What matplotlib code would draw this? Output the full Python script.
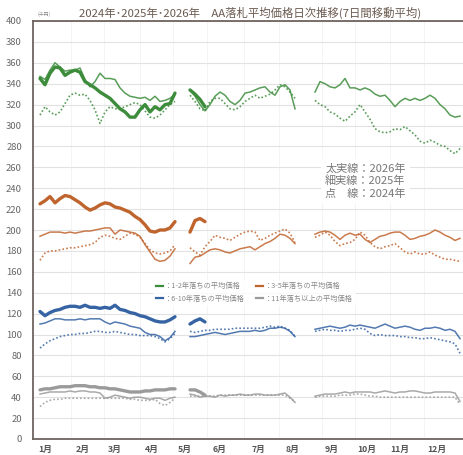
import numpy as np
import matplotlib
matplotlib.use("Agg")
import matplotlib.pyplot as plt
from matplotlib.lines import Line2D

plt.rcParams['font.family'] = ['Noto Sans CJK JP', 'DejaVu Sans']

nan = np.nan

months = ['1月', '2月', '3月', '4月', '5月', '6月', '7月', '8月', '9月', '10月', '11月', '12月']
month_pos = [1, 8.6, 15, 22.4, 29, 36, 43.6, 50.6, 58.4, 65.4, 72, 79.4]

# 7日間移動平均 (千円)  index = 集計日, nan = 休会期間
green_2026 = [345, 339, 350, 356, 355, 348, 351, 353, 351, 342, 339, 336, 332, 329, 326, 321, 316, 313,
              308, 308, 315, 320, 313, 318, 315, 320, 321, 331, nan, nan, 334, 330, 325, 318]
green_2025 = [347, 344, 353, 360, 356, 352, 353, 353, 355, 344, 337, 342, 350, 345, 345, 344, 336, 331,
              328, 327, 326, 327, 324, 328, 323, 324, 326, 330, nan, nan,
              334, 328, 320, 314, 320, 328, 332, 329, 323, 320, 324, 331, 332, 334, 336, 337, 332, 329,
              337, 339, 334, 316, nan, nan, nan,
              332, 342, 340, 337, 336, 339, 345, 336, 336, 334, 336, 334, 330, 328, 329, 324, 318, 323,
              326, 324, 326, 324, 326, 329, 326, 320, 316, 310, 308, 309]
green_2024 = [310, 318, 313, 310, 313, 321, 329, 331, 329, 330, 324, 315, 302, 313, 318, 316, 316, 318,
              320, 322, 320, 314, 308, 307, 310, 315, 320, 323, nan, nan,
              329, 323, 316, 314, 323, 326, 326, 321, 316, 315, 318, 323, 326, 329, 326, 328, 330, 334,
              339, 337, 332, 326, nan, nan, nan,
              324, 320, 318, 313, 311, 307, 304, 309, 313, 320, 313, 306, 297, 294, 293, 294, 297, 296,
              299, 295, 291, 285, 283, 286, 284, 281, 280, 276, 273, 278]

orange_2026 = [225, 228, 232, 226, 230, 233, 232, 229, 226, 222, 219, 221, 224, 226, 225, 222, 221, 219,
               217, 213, 210, 205, 199, 198, 200, 200, 202, 208, nan, nan, 198, 209, 211, 208]
orange_2025 = [194, 196, 198, 198, 198, 197, 198, 197, 198, 199, 199, 200, 201, 202, 202, 196, 200, 199,
               198, 197, 194, 186, 179, 172, 170, 171, 175, 182, nan, nan,
               168, 174, 175, 178, 181, 182, 181, 179, 178, 180, 182, 183, 184, 181, 184, 187, 189, 192,
               196, 195, 192, 187, nan, nan, nan,
               196, 198, 199, 198, 195, 191, 195, 197, 195, 196, 191, 188, 191, 194, 195, 197, 198, 198,
               195, 191, 192, 194, 195, 197, 200, 198, 195, 193, 190, 192]
orange_2024 = [171, 178, 180, 180, 181, 182, 183, 183, 184, 185, 186, 188, 193, 195, 194, 192, 191, 194,
               197, 196, 193, 187, 181, 178, 177, 178, 180, 186, nan, nan,
               183, 179, 176, 184, 189, 195, 193, 192, 190, 193, 196, 198, 199, 198, 190, 192, 195, 197,
               199, 201, 197, 188, nan, nan, nan,
               193, 195, 198, 195, 189, 185, 187, 188, 191, 198, 195, 188, 184, 182, 184, 185, 187, 183,
               179, 177, 179, 177, 177, 179, 176, 174, 172, 172, 171, 170]

blue_2026 = [122, 118, 121, 123, 124, 126, 127, 127, 126, 128, 126, 126, 125, 126, 125, 128, 124, 123,
             121, 120, 118, 117, 115, 113, 112, 112, 114, 117, nan, nan, 110, 113, 115, 112]
blue_2025 = [110, 111, 113, 115, 115, 114, 114, 114, 115, 114, 115, 115, 115, 112, 110, 112, 111, 110,
             108, 107, 106, 102, 100, 100, 98, 94, 97, 103, nan, nan,
             98, 98, 99, 100, 101, 102, 101, 100, 101, 102, 103, 103, 103, 104, 103, 104, 106, 106,
             107, 106, 103, 98, nan, nan, nan,
             105, 106, 107, 108, 107, 106, 107, 109, 108, 109, 108, 107, 106, 108, 110, 108, 106, 107,
             108, 107, 105, 104, 106, 106, 107, 106, 104, 105, 103, 96]
blue_2024 = [87, 91, 94, 96, 98, 99, 100, 100, 101, 101, 102, 103, 103, 102, 102, 103, 102, 101,
             100, 100, 99, 99, 99, 98, 96, 93, 96, 101, nan, nan,
             103, 102, 103, 104, 104, 105, 105, 105, 105, 106, 106, 106, 106, 106, 106, 107, 108, 107,
             108, 106, 104, 98, nan, nan, nan,
             103, 104, 105, 104, 104, 103, 104, 104, 105, 106, 105, 101, 99, 100, 99, 99, 99, 98,
             98, 97, 97, 96, 96, 97, 96, 95, 94, 93, 91, 82]

gray_2026 = [47, 48, 48, 49, 50, 50, 50, 51, 51, 51, 50, 50, 49, 49, 48, 48, 47, 46,
             45, 45, 45, 46, 46, 47, 47, 47, 48, 48, nan, nan, 47, 47, 45, 42]
gray_2025 = [43, 44, 45, 45, 45, 45, 46, 45, 46, 46, 45, 45, 44, 39, 40, 42, 41, 40,
             39, 40, 40, 39, 38, 39, 39, 37, 39, 40, nan, nan,
             43, 42, 40, 41, 41, 40, 42, 41, 42, 42, 43, 42, 42, 43, 43, 42, 42, 42,
             43, 44, 40, 35, nan, nan, nan,
             41, 42, 43, 43, 43, 44, 45, 44, 45, 45, 45, 45, 44, 45, 46, 45, 44, 45,
             45, 46, 46, 45, 44, 44, 45, 45, 45, 45, 44, 36]
gray_2024 = [31, 35, 37, 38, 38, 39, 39, 39, 39, 39, 39, 39, 39, 39, 39, 39, 39, 39,
             38, 38, 37, 37, 37, 38, 34, 32, 35, 39, nan, nan,
             41, 41, 41, 41, 41, 41, 42, 42, 42, 42, 42, 42, 42, 42, 42, 42, 42, 42,
             42, 42, 39, 36, nan, nan, nan,
             40, 41, 41, 41, 41, 42, 42, 42, 43, 43, 42, 41, 41, 40, 40, 40, 40, 40,
             40, 40, 40, 40, 40, 40, 40, 40, 40, 40, 40, 33]

groups = [
    ('1-2年落ちの平均価格', '#3c8c3c', green_2026, green_2025, green_2024),
    ('3-5年落ちの平均価格', '#c0642e', orange_2026, orange_2025, orange_2024),
    ('6-10年落ちの平均価格', '#3563a3', blue_2026, blue_2025, blue_2024),
    ('11年落ち以上の平均価格', '#9a9a9a', gray_2026, gray_2025, gray_2024),
]

fig = plt.figure(figsize=(4.64, 4.55), dpi=100)
ax = fig.add_axes([33 / 464, 16 / 455, 431 / 464, 418 / 455])

for label, color, y26, y25, y24 in groups:
    ax.plot(np.arange(len(y24)), y24, color=color, lw=1.2, ls=(0, (1, 1.3)), alpha=0.85)
    ax.plot(np.arange(len(y25)), y25, color=color, lw=1.1, alpha=0.85)
    ax.plot(np.arange(len(y26)), y26, color=color, lw=2.4, solid_capstyle='round')

ax.set_xlim(-1.4, 84.8)
ax.set_ylim(0, 400)
ax.set_yticks(range(0, 401, 20))
ax.set_xticks(month_pos)
ax.set_xticklabels(months, fontsize=6.3, fontweight='bold', color='#555555')
ax.tick_params(axis='y', length=0, pad=8, labelsize=6.8, labelcolor='#666666')
ax.tick_params(axis='x', length=0, pad=4)

ax.grid(axis='y', color='#e2e2e2', lw=0.8)
for p in [6.2, 12.8, 20, 26.6, 33.4, 40.8, 47.8, 56.4, 63, 70, 76.8]:
    ax.axvline(p, color='#f3f3f3', lw=0.6, zorder=0)
ax.set_axisbelow(True)

for s in ['left', 'bottom', 'top']:
    ax.spines[s].set_color('#6e6460')
    ax.spines[s].set_linewidth(1.3)
ax.spines['right'].set_visible(False)

# legend (row1: green/orange, row2: blue/gray)
handles = [Line2D([], [], color=g[1], lw=1.6) for g in groups]
labels = ['：' + g[0] for g in groups]
order = [0, 2, 1, 3]
leg = ax.legend([handles[i] for i in order], [labels[i] for i in order], ncol=2,
                loc='upper left', bbox_to_anchor=(0.27, 0.39), fontsize=5.2,
                handlelength=1.0, handletextpad=0.2, columnspacing=1.6,
                labelspacing=0.6, frameon=True, fancybox=False, borderpad=0.4)
leg.get_frame().set_facecolor('white')
leg.get_frame().set_edgecolor('none')
for t in leg.get_texts():
    t.set_color('#888888')

ax.text(0.678, 0.66, '太実線：2026年\n細実線：2025年\n点　線：2024年', transform=ax.transAxes,
        fontsize=8, color='#777777', va='top', ha='left', linespacing=1.2,
        bbox=dict(facecolor='white', edgecolor='none', pad=3))

fig.text(0.54, 0.971, '2024年･2025年･2026年　AA落札平均価格日次推移(7日間移動平均)',
         ha='center', va='center', fontsize=8.2, color='#6a5a50')
fig.text(0.08, 0.968, '(千円)', ha='left', va='center', fontsize=3.5, color='#888888')

fig.savefig('out.png', dpi=100)
